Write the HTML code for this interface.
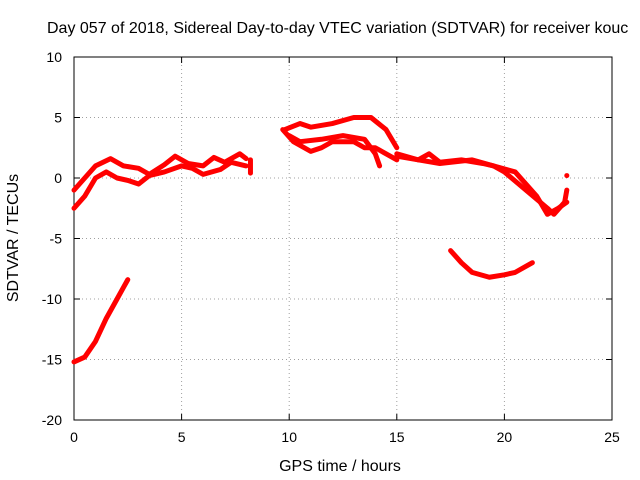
<!DOCTYPE html>
<html><head><meta charset="utf-8"><style>
body{margin:0;background:#fff}
svg{display:block;font-family:"Liberation Sans",sans-serif}
</style></head><body>
<svg id="chart" width="640" height="480">
<text x="47" y="33" font-size="16">Day 057 of 2018, Sidereal Day-to-day VTEC variation (SDTVAR) for receiver kouc</text>
<text x="340" y="471" font-size="16" text-anchor="middle">GPS time / hours</text>
<text transform="translate(18,238) rotate(-90)" font-size="16" text-anchor="middle">SDTVAR / TECUs</text>
</svg>
<script>
const xTicks=[0,5,10,15,20,25];
const yTicks=[10,5,0,-5,-10,-15,-20];
const track1=[[0,-15.2],[0.5,-14.8],[1,-13.5],[1.5,-11.6],[2,-10],[2.5,-8.4]];
const track2=[[0,-1],[0.5,0],[1,1],[1.7,1.6],[2.3,1],[3,0.8],[3.5,0.3],[4.2,1.1],[4.7,1.8],[5.3,1.2],[6,1],[6.5,1.7],[7,1.3],[7.7,2],[8,1.6]];
const track3=[[0,-2.5],[0.5,-1.5],[1,0],[1.5,0.5],[2,0],[2.5,-0.2],[3,-0.5],[3.5,0.2],[4.2,0.5],[5,1],[5.5,0.8],[6,0.3],[6.8,0.7],[7.3,1.3],[8,1]];
const track4=[[8.2,0.4],[8.2,1.5]];
const track5=[[9.7,4],[10.2,3],[11,2.2],[11.5,2.5],[12,3],[13,3],[13.5,2.5],[14,2.5],[15,1.5]];
const track6=[[9.8,4],[10.5,4.5],[11,4.2],[12,4.5],[13,5],[13.8,5],[14.5,4],[15,2.5]];
const track7=[[10,3.5],[10.5,3],[11.5,3.2],[12.5,3.5],[13.5,3.2],[14,2],[14.2,1]];
const track8=[[15,2],[16,1.5],[16.5,2],[17,1.3],[18,1.5],[19,1.2],[19.5,1],[20,0.5],[21,-1],[22,-2.5],[22.3,-3],[22.8,-2],[22.9,-1]];
const track9=[[15,1.8],[17,1.2],[18.5,1.5],[20.5,0.5],[21.5,-1.5],[22,-3],[22.5,-2.5],[22.9,-2]];
const track10=[[17.5,-6],[18,-7],[18.5,-7.8],[19.3,-8.2],[20,-8],[20.5,-7.8],[21,-7.3],[21.3,-7]];
const track11=[[22.9,0.2],[22.9,0.2]];
const tracks=[track1,track2,track3,track4,track5,track6,track7,track8,track9,track10,track11];
const X0=74,X1=612,Y0=57,Y1=420;
const sx=v=>X0+(v-0)/25*(X1-X0);
const sy=v=>Y1-(v+20)/30*(Y1-Y0);
const svg=document.getElementById('chart');
const NS='http://www.w3.org/2000/svg';
function mk(t,a){const e=document.createElementNS(NS,t);for(const k in a)e.setAttribute(k,a[k]);svg.appendChild(e);return e;}
xTicks.forEach(t=>{
 const x=sx(t);
 if(t>0&&t<25){const g=mk('line',{x1:x,y1:Y0,x2:x,y2:Y1,stroke:'#a0a0a0','stroke-dasharray':'1,3'});
 
 }
 const l=mk('text',{x:x,y:Y1+22,'font-size':14,'text-anchor':'middle'});l.textContent=t;
 
 
 mk('line',{x1:x,y1:Y1,x2:x,y2:Y1-6,stroke:'#000'});mk('line',{x1:x,y1:Y0,x2:x,y2:Y0+6,stroke:'#000'});
});
yTicks.forEach(t=>{
 const y=sy(t);
 if(t<10&&t>-20){const g=mk('line',{x1:X0,y1:y,x2:X1,y2:y,stroke:'#a0a0a0','stroke-dasharray':'1,3'});
 
 }
 const l=mk('text',{x:X0-12,y:y+5,'font-size':14,'text-anchor':'end'});l.textContent=t;
 
 
 mk('line',{x1:X0,y1:y,x2:X0+6,y2:y,stroke:'#000'});mk('line',{x1:X1,y1:y,x2:X1-6,y2:y,stroke:'#000'});
});
const fr=mk('rect',{x:X0,y:Y0,width:X1-X0,height:Y1-Y0,fill:'none',stroke:'#000'});


tracks.forEach(tr=>{
 const p=mk('polyline',{points:tr.map(d=>sx(d[0])+','+sy(d[1])).join(' '),fill:'none',stroke:'#ff0000','stroke-width':5,'stroke-linejoin':'round','stroke-linecap':'round'});
 
 
});
</script>
</body></html>
